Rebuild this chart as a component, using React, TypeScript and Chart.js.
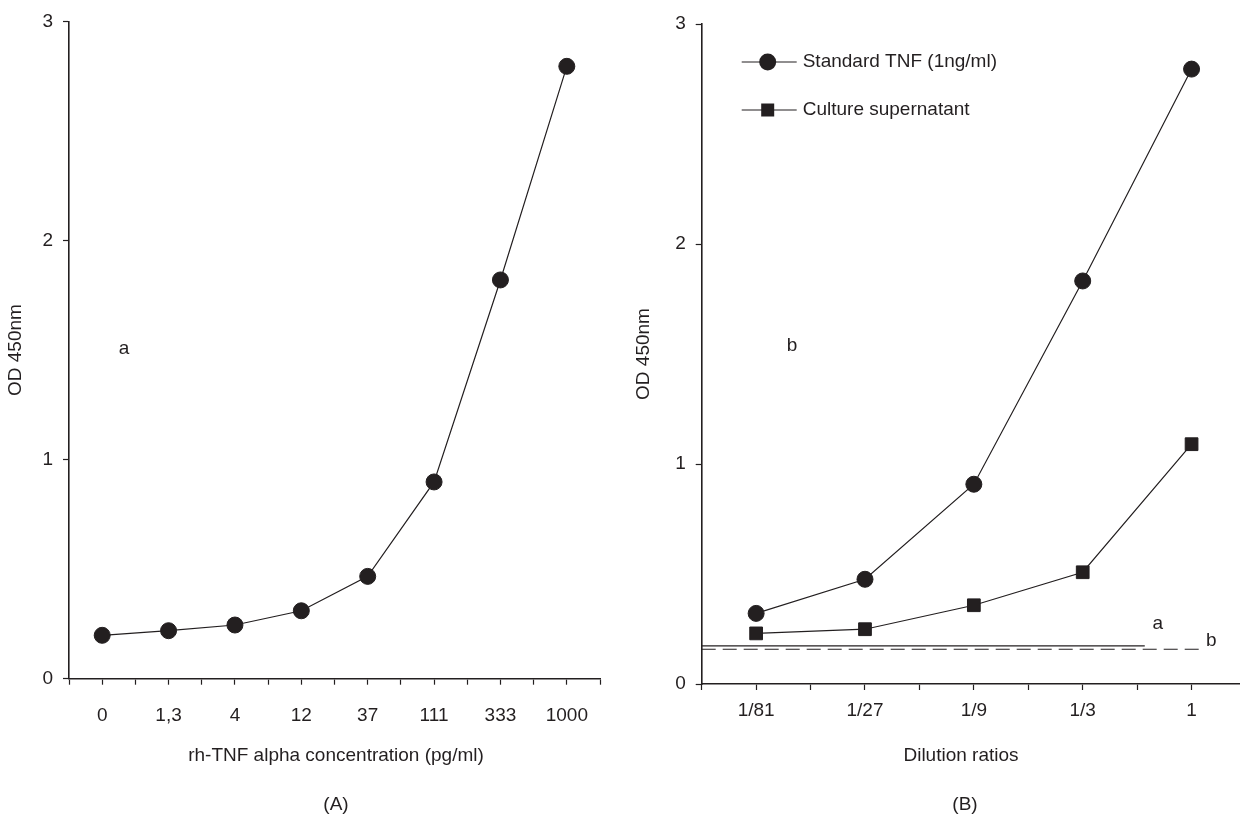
import React, { useEffect, useRef } from 'react';
import { Chart, registerables } from 'chart.js';

Chart.register(...registerables);

// ---- data ----
const concLabels = ['0', '1,3', '4', '12', '37', '111', '333', '1000'];
const concOD = [0.198, 0.219, 0.245, 0.31, 0.467, 0.898, 1.82, 2.795];

const dilutionLabels = ['1/81', '1/27', '1/9', '1/3', '1'];
const standardOD = [0.321, 0.476, 0.908, 1.832, 2.795];
const supernatantOD = [0.23, 0.249, 0.358, 0.508, 1.09];

const cutoffA = 0.173; // solid reference line "a"
const cutoffB = 0.158; // dashed reference line "b"

const yMax = 3;

const INK = '#231f20';
const FONT = '"Liberation Sans", Arial, Helvetica, sans-serif';
const FS = 19;

type Note = { text: string; x: number; y: number };
type Caption = { text: string; x: number; y: number };

function overlayPlugin(notes: Note[], captions: Caption[], legend: boolean) {
  return {
    id: 'overlay',
    afterDraw(chart: any) {
      const ctx = chart.ctx as CanvasRenderingContext2D;
      const xs = chart.scales.x;
      const ys = chart.scales.y;
      const area = chart.chartArea;
      ctx.save();
      ctx.fillStyle = INK;
      ctx.strokeStyle = INK;
      ctx.font = `${FS}px ${FONT}`;
      ctx.textAlign = 'center';
      ctx.textBaseline = 'middle';
      for (const n of notes) {
        ctx.fillText(n.text, xs.getPixelForValue(n.x), ys.getPixelForValue(n.y));
      }
      for (const c of captions) {
        ctx.fillText(c.text, c.x, c.y);
      }
      if (legend) {
        const items = chart.data.datasets.filter((d: any) => d.inLegend);
        items.forEach((d: any, i: number) => {
          const y = area.top + 38 + i * 48;
          const x0 = area.left + 40;
          const x1 = x0 + 55;
          const mx = x0 + 26;
          ctx.lineWidth = 1.2;
          ctx.beginPath();
          ctx.moveTo(x0, y);
          ctx.lineTo(x1, y);
          ctx.stroke();
          ctx.beginPath();
          if (d.pointStyle === 'rect') {
            const s = 13;
            ctx.rect(mx - s / 2, y - s / 2, s, s);
          } else {
            ctx.arc(mx, y, 8.5, 0, Math.PI * 2);
          }
          ctx.fill();
          ctx.textAlign = 'left';
          ctx.fillText(d.label, x1 + 6, y);
        });
      }
      ctx.restore();
    },
  };
}

function yAxis(width: number, titlePad: number) {
  return {
    min: 0,
    max: yMax,
    afterFit: (s: any) => {
      s.width = width;
    },
    ticks: {
      stepSize: 1,
      padding: 10,
      color: INK,
      font: { family: FONT, size: FS },
    },
    grid: {
      drawOnChartArea: false,
      drawTicks: true,
      tickLength: 6,
      tickColor: INK,
      tickWidth: 1.2,
    },
    border: { color: INK, width: 1.6 },
    title: {
      display: true,
      text: 'OD 450nm',
      color: INK,
      font: { family: FONT, size: FS },
      padding: { top: titlePad, bottom: 0 },
    },
  };
}

function xAxis(labels: string[], height: number, pad: number) {
  return {
    type: 'linear' as const,
    min: -0.5,
    max: labels.length - 0.5,
    afterFit: (s: any) => {
      s.height = height;
    },
    ticks: {
      stepSize: 0.5,
      autoSkip: false,
      maxRotation: 0,
      minRotation: 0,
      padding: pad,
      color: INK,
      font: { family: FONT, size: FS },
      callback: (v: any) => (Number.isInteger(v) && v >= 0 && v < labels.length ? labels[v] : ''),
    },
    grid: {
      drawOnChartArea: false,
      drawTicks: true,
      tickLength: 6,
      tickColor: INK,
      tickWidth: 1.2,
    },
    border: { color: INK, width: 1.6 },
  };
}

export default function App() {
  const leftRef = useRef<HTMLCanvasElement | null>(null);
  const rightRef = useRef<HTMLCanvasElement | null>(null);

  useEffect(() => {
    Chart.defaults.font.family = FONT;
    Chart.defaults.color = INK;

    const left = new Chart(leftRef.current as HTMLCanvasElement, {
      type: 'line',
      data: {
        datasets: [
          {
            label: 'rh-TNF alpha',
            data: concOD.map((y, i) => ({ x: i, y })),
            borderColor: INK,
            borderWidth: 1.2,
            pointStyle: 'circle',
            pointRadius: 8,
            pointBorderWidth: 1,
            pointBackgroundColor: INK,
            pointBorderColor: INK,
            tension: 0,
          },
        ],
      },
      options: {
        animation: false,
        responsive: false,
        maintainAspectRatio: false,
        layout: { padding: { top: 20, left: 0, right: 16.5, bottom: 0 } },
        plugins: { legend: { display: false }, tooltip: { enabled: false } },
        scales: {
          x: xAxis(concLabels, 822 - 678.7, 20),
          y: yAxis(69, 4),
        } as any,
      },
      plugins: [
        overlayPlugin(
          [{ text: 'a', x: 0.33, y: 1.505 }],
          [
            { text: 'rh-TNF alpha concentration (pg/ml)', x: 336, y: 756 },
            { text: '(A)', x: 336, y: 805 },
          ],
          false
        ),
      ],
    });

    const right = new Chart(rightRef.current as HTMLCanvasElement, {
      type: 'line',
      data: {
        datasets: [
          {
            label: 'Standard TNF (1ng/ml)',
            inLegend: true,
            data: standardOD.map((y, i) => ({ x: i, y })),
            borderColor: INK,
            borderWidth: 1.2,
            pointStyle: 'circle',
            pointRadius: 8,
            pointBorderWidth: 1,
            pointBackgroundColor: INK,
            pointBorderColor: INK,
            tension: 0,
          },
          {
            label: 'Culture supernatant',
            inLegend: true,
            data: supernatantOD.map((y, i) => ({ x: i, y })),
            borderColor: INK,
            borderWidth: 1.2,
            pointStyle: 'rect',
            pointRadius: 9,
            pointBorderWidth: 1,
            pointBackgroundColor: INK,
            pointBorderColor: INK,
            tension: 0,
          },
          {
            label: 'a',
            data: [
              { x: -0.5, y: cutoffA },
              { x: 3.57, y: cutoffA },
            ],
            borderColor: INK,
            borderWidth: 1.2,
            pointRadius: 0,
          },
          {
            label: 'b',
            data: [
              { x: -0.5, y: cutoffB },
              { x: 4.13, y: cutoffB },
            ],
            borderColor: INK,
            borderWidth: 1.2,
            borderDash: [14, 7],
            pointRadius: 0,
          },
        ] as any,
      },
      options: {
        animation: false,
        responsive: false,
        maintainAspectRatio: false,
        layout: { padding: { top: 24, left: 0, right: 14, bottom: 0 } },
        plugins: { legend: { display: false }, tooltip: { enabled: false } },
        scales: {
          x: xAxis(dilutionLabels, 822 - 684, 9),
          y: yAxis(81.7, 12),
        } as any,
      },
      plugins: [
        overlayPlugin(
          [
            { text: 'b', x: 0.33, y: 1.536 },
            { text: 'a', x: 3.69, y: 0.273 },
            { text: 'b', x: 4.18, y: 0.195 },
          ],
          [
            { text: 'Dilution ratios', x: 341, y: 756 },
            { text: '(B)', x: 345, y: 805 },
          ],
          true
        ),
      ],
    });

    return () => {
      left.destroy();
      right.destroy();
    };
  }, []);

  return (
    <div
      style={{
        position: 'fixed',
        left: 0,
        top: 0,
        width: 1240,
        height: 822,
        overflow: 'hidden',
        background: '#ffffff',
      }}
    >
      <canvas
        ref={leftRef}
        width={620}
        height={822}
        style={{ position: 'absolute', left: 0, top: 0, width: 620, height: 822 }}
      />
      <canvas
        ref={rightRef}
        width={640}
        height={822}
        style={{ position: 'absolute', left: 620, top: 0, width: 640, height: 822 }}
      />
    </div>
  );
}
